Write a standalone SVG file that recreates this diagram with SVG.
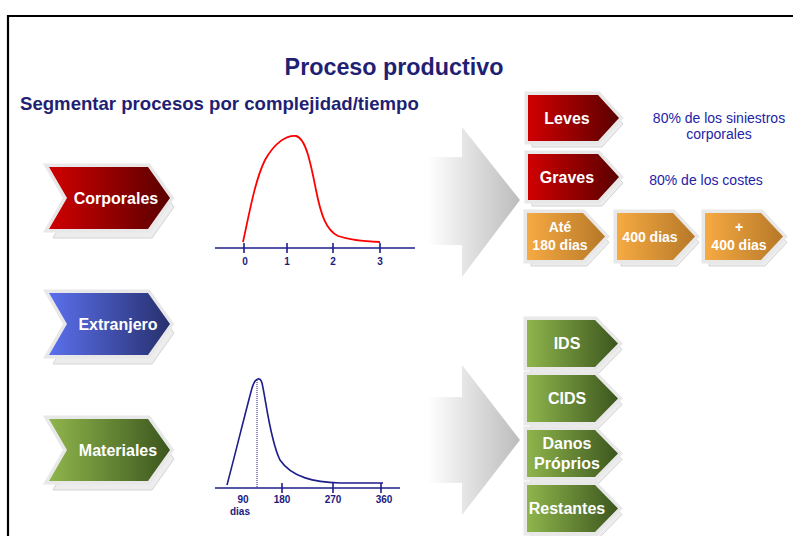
<svg xmlns="http://www.w3.org/2000/svg" xmlns:xlink="http://www.w3.org/1999/xlink" width="793" height="536" viewBox="0 0 793 536">
<style>
text{font-family:"Liberation Sans",Arial,sans-serif}
.title{font-size:23.3px;font-weight:bold;fill:#1f1f73}
.sub{font-size:18.6px;font-weight:bold;fill:#1f1f73}
.lbl{font-size:16px;font-weight:bold;fill:#ffffff}
.olbl{font-size:14px;font-weight:bold;fill:#ffffff}
.note{font-size:14px;fill:#2323a8}
.ax{font-size:10px;font-weight:bold;fill:#1a1a80}
.shadow{fill:#ededed;stroke:#d4d4d4;stroke-width:1}
.halo{fill:#e9e9e9;stroke:#e8e8e8;stroke-width:7;stroke-linejoin:miter}
.axis{stroke:#1e1e8c;stroke-width:1.6;fill:none}
</style>
<defs>
<linearGradient id="gRed" x1="0" y1="0" x2="1" y2="0"><stop offset="0" stop-color="#d00000"/><stop offset="1" stop-color="#5a0000"/></linearGradient>
<linearGradient id="gBlue" x1="0" y1="0" x2="1" y2="0"><stop offset="0" stop-color="#5b70ec"/><stop offset="1" stop-color="#27306e"/></linearGradient>
<linearGradient id="gGreen" x1="0" y1="0" x2="1" y2="0"><stop offset="0" stop-color="#8fb54c"/><stop offset="1" stop-color="#3c561e"/></linearGradient>
<linearGradient id="gOrange" x1="0" y1="0" x2="1" y2="0"><stop offset="0" stop-color="#f6aa42"/><stop offset="1" stop-color="#b67828"/></linearGradient>
<linearGradient id="gArrow" x1="0" y1="0" x2="1" y2="0"><stop offset="0" stop-color="#ffffff"/><stop offset="1" stop-color="#bcbcbc"/></linearGradient>
<polygon id="lc" points="0,0 99,0 121,31 99,62 0,62 18,31"/>
<polygon id="rc" points="0,0 70,0 91,23 70,46 0,46"/>
<polygon id="gc" points="0,0 68,0 91,23.5 68,47 0,47"/>
<polygon id="oc" points="0,0 56,0 78,23.5 56,47 0,47"/>
</defs>
<rect width="793" height="536" fill="#ffffff"/>
<path d="M8,536 V16 H793" fill="none" stroke="#000" stroke-width="2.2"/>
<text class="title" x="394" y="75" text-anchor="middle">Proceso productivo</text>
<text class="sub" x="20" y="110">Segmentar procesos por complejidad/tiempo</text>

<g id="n-corporales" transform="translate(49,167)">
<use xlink:href="#lc" class="shadow" x="4" y="9"/><use xlink:href="#lc" class="halo"/><use xlink:href="#lc" fill="url(#gRed)"/>
<text class="lbl" x="67" y="37" text-anchor="middle">Corporales</text></g>
<g id="n-extranjero" transform="translate(49,293)">
<use xlink:href="#lc" class="shadow" x="4" y="9"/><use xlink:href="#lc" class="halo"/><use xlink:href="#lc" fill="url(#gBlue)"/>
<text class="lbl" x="69" y="37" text-anchor="middle">Extranjero</text></g>
<g id="n-materiales" transform="translate(49,419)">
<use xlink:href="#lc" class="shadow" x="4" y="9"/><use xlink:href="#lc" class="halo"/><use xlink:href="#lc" fill="url(#gGreen)"/>
<text class="lbl" x="69" y="37" text-anchor="middle">Materiales</text></g>

<g id="chart-corporales">
<line class="axis" x1="215" y1="248" x2="415" y2="248"/>
<path class="axis" d="M244,243 V253 M287,243 V253 M333,243 V253 M380,243 V253"/>
<path d="M243,242 C249,215 255,180 265,160 C275,142 287,135 296,136 C306,138 311,165 316,190 C321,215 326,230 338,236 C350,240 360,241 380,242" fill="none" stroke="#ff0000" stroke-width="1.8"/>
<text class="ax" x="245" y="265" text-anchor="middle">0</text>
<text class="ax" x="287" y="265" text-anchor="middle">1</text>
<text class="ax" x="333" y="265" text-anchor="middle">2</text>
<text class="ax" x="380" y="265" text-anchor="middle">3</text>
</g>

<g id="chart-materiales">
<line class="axis" x1="215" y1="488" x2="400" y2="488"/>
<path class="axis" d="M282,483 V493 M333,483 V493 M381,483 V493"/>
<line x1="257" y1="380" x2="257" y2="488" stroke="#1e1e8c" stroke-width="1" stroke-dasharray="1,1"/>
<path d="M227,485 C235,455 246,410 252,388 C255,378 260,376 262,383 C266,400 270,440 280,460 C292,478 315,482 340,483 L383,483" fill="none" stroke="#1e1e8c" stroke-width="1.6"/>
<text class="ax" x="243" y="503" text-anchor="middle">90</text>
<text class="ax" x="240" y="515" text-anchor="middle">dias</text>
<text class="ax" x="282" y="503" text-anchor="middle">180</text>
<text class="ax" x="333" y="503" text-anchor="middle">270</text>
<text class="ax" x="384" y="503" text-anchor="middle">360</text>
</g>

<g id="connectors">
<polygon points="428,157 462,157 462,127 520,200 462,277 462,245 428,245" fill="url(#gArrow)"/>
<polygon points="428,397 462,397 462,365 520,440 462,515 462,483 428,483" fill="url(#gArrow)"/>
</g>

<g id="n-leves" transform="translate(528,95)">
<use xlink:href="#rc" class="shadow" x="4" y="6"/><use xlink:href="#rc" class="halo"/><use xlink:href="#rc" fill="url(#gRed)"/>
<text class="lbl" x="39" y="29" text-anchor="middle">Leves</text></g>
<g id="n-graves" transform="translate(528,154)">
<use xlink:href="#rc" class="shadow" x="4" y="6"/><use xlink:href="#rc" class="halo"/><use xlink:href="#rc" fill="url(#gRed)"/>
<text class="lbl" x="39" y="29" text-anchor="middle">Graves</text></g>

<g id="n-ate180" transform="translate(527,213)">
<use xlink:href="#oc" class="shadow" x="4" y="6"/><use xlink:href="#oc" class="halo"/><use xlink:href="#oc" fill="url(#gOrange)"/>
<text class="olbl" x="33" y="19" text-anchor="middle">Até</text>
<text class="olbl" x="33" y="37" text-anchor="middle">180 dias</text></g>
<g id="n-400" transform="translate(617,213)">
<use xlink:href="#oc" class="shadow" x="4" y="6"/><use xlink:href="#oc" class="halo"/><use xlink:href="#oc" fill="url(#gOrange)"/>
<text class="olbl" x="33" y="29" text-anchor="middle">400 dias</text></g>
<g id="n-mas400" transform="translate(705,213)">
<use xlink:href="#oc" class="shadow" x="4" y="6"/><use xlink:href="#oc" class="halo"/><use xlink:href="#oc" fill="url(#gOrange)"/>
<text class="olbl" x="34" y="19" text-anchor="middle">+</text>
<text class="olbl" x="34" y="37" text-anchor="middle">400 dias</text></g>

<text class="note" x="719" y="123" text-anchor="middle">80% de los siniestros</text>
<text class="note" x="719" y="139" text-anchor="middle">corporales</text>
<text class="note" x="706" y="185" text-anchor="middle">80% de los costes</text>

<g id="n-ids" transform="translate(527,320)">
<use xlink:href="#gc" class="shadow" x="4" y="6"/><use xlink:href="#gc" class="halo"/><use xlink:href="#gc" fill="url(#gGreen)"/>
<text class="lbl" x="40" y="29" text-anchor="middle">IDS</text></g>
<g id="n-cids" transform="translate(527,375)">
<use xlink:href="#gc" class="shadow" x="4" y="6"/><use xlink:href="#gc" class="halo"/><use xlink:href="#gc" fill="url(#gGreen)"/>
<text class="lbl" x="40" y="29" text-anchor="middle">CIDS</text></g>
<g id="n-danos" transform="translate(527,430)">
<use xlink:href="#gc" class="shadow" x="4" y="6"/><use xlink:href="#gc" class="halo"/><use xlink:href="#gc" fill="url(#gGreen)"/>
<text class="lbl" x="40" y="19" text-anchor="middle">Danos</text>
<text class="lbl" x="40" y="39" text-anchor="middle">Próprios</text></g>
<g id="n-restantes" transform="translate(527,485)">
<use xlink:href="#gc" class="shadow" x="4" y="6"/><use xlink:href="#gc" class="halo"/><use xlink:href="#gc" fill="url(#gGreen)"/>
<text class="lbl" x="40" y="29" text-anchor="middle">Restantes</text></g>
</svg>
